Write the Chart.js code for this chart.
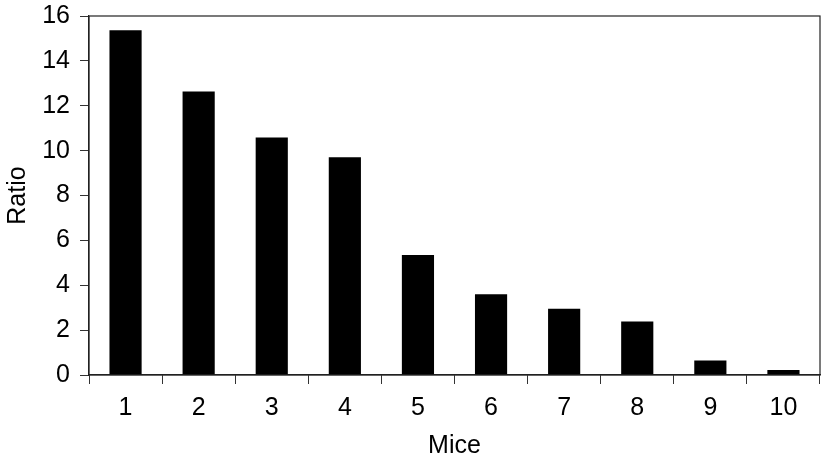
<!DOCTYPE html>
<html>
<head>
<meta charset="utf-8">
<script src="https://cdn.jsdelivr.net/npm/chart.js@4"></script>
<style>
  html, body { margin: 0; padding: 0; background: #fff; }
  #wrap { width: 822px; height: 463px; }
</style>
</head>
<body>
<div id="wrap"><canvas id="c" width="822" height="463"></canvas></div>
<script>
const categories = ['1', '2', '3', '4', '5', '6', '7', '8', '9', '10'];
const ratioValues = [15.36, 12.63, 10.58, 9.70, 5.35, 3.60, 2.95, 2.38, 0.65, 0.22];
const yTicks = [0, 2, 4, 6, 8, 10, 12, 14, 16];
const xTitle = 'Mice';
const yTitle = 'Ratio';

const FONT = "'Liberation Sans', Arial, Helvetica, sans-serif";

const boxPlugin = {
  id: 'box',
  afterDraw(chart) {
    const a = chart.chartArea;
    const ctx = chart.ctx;
    ctx.save();
    ctx.strokeStyle = '#222';
    ctx.lineWidth = 1.2;
    ctx.strokeRect(a.left, a.top, a.right - a.left, a.bottom - a.top);
    ctx.restore();
  }
};

new Chart(document.getElementById('c'), {
  type: 'bar',
  data: {
    labels: categories,
    datasets: [{
      data: ratioValues,
      backgroundColor: '#000',
      borderWidth: 0,
      barPercentage: 0.44,
      categoryPercentage: 1.0
    }]
  },
  options: {
    responsive: false,
    animation: false,
    devicePixelRatio: 1,
    layout: { padding: { left: 0, right: 2, top: 16, bottom: 0 } },
    plugins: { legend: { display: false }, tooltip: { enabled: false } },
    scales: {
      x: {
        grid: { display: true, drawOnChartArea: false, drawTicks: true, tickLength: 9, color: '#333', offset: true },
        border: { display: true, color: '#222', width: 1.2 },
        ticks: { color: '#000', font: { family: FONT, size: 25 }, padding: 9 },
        title: { display: true, text: xTitle, color: '#000', font: { family: FONT, size: 25 }, padding: { top: 0, bottom: 2 } },
        afterFit(scale) { scale.height = 88; scale.paddingLeft = 0; scale.paddingRight = 0; }
      },
      y: {
        min: 0, max: 16,
        afterBuildTicks(scale) { scale.ticks = yTicks.map(v => ({ value: v })); },
        grid: { display: true, drawOnChartArea: false, drawTicks: true, tickLength: 9, color: '#333' },
        border: { display: true, color: '#222', width: 1.2 },
        ticks: { color: '#000', font: { family: FONT, size: 25 }, padding: 10 },
        title: { display: true, text: yTitle, color: '#000', font: { family: FONT, size: 25 }, padding: { top: 3, bottom: 0 } },
        afterFit(scale) { scale.width = 89; scale.paddingTop = 0; scale.paddingBottom = 0; }
      }
    }
  },
  plugins: [boxPlugin]
});
</script>
</body>
</html>
